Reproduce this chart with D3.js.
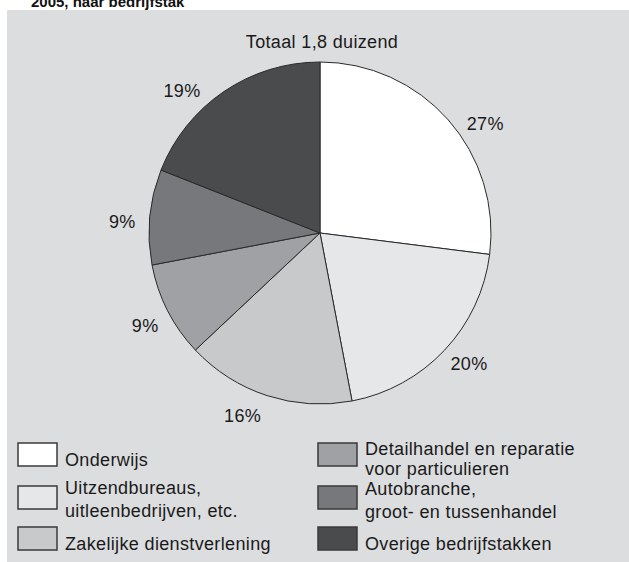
<!DOCTYPE html>
<html>
<head>
<meta charset="utf-8">
<script src="https://cdn.jsdelivr.net/npm/d3@7"></script>
<style>
  html, body { margin: 0; padding: 0; background: #ffffff; }
  svg { display: block; font-family: "Liberation Sans", Arial, Helvetica, sans-serif; }
</style>
</head>
<body>
<svg id="chart" width="629" height="562"></svg>
<script>
// ---- data ----
const categories = [
  "Onderwijs",
  "Uitzendbureaus, uitleenbedrijven, etc.",
  "Zakelijke dienstverlening",
  "Detailhandel en reparatie voor particulieren",
  "Autobranche, groot- en tussenhandel",
  "Overige bedrijfstakken"
];
const shares = [27, 20, 16, 9, 9, 19];
const percentLabels = ["27%", "20%", "16%", "9%", "9%", "19%"];
const legendLines = [
  ["Onderwijs"],
  ["Uitzendbureaus,", "uitleenbedrijven, etc."],
  ["Zakelijke dienstverlening"],
  ["Detailhandel en reparatie", "voor particulieren"],
  ["Autobranche,", "groot- en tussenhandel"],
  ["Overige bedrijfstakken"]
];
const chartTitle = "Totaal 1,8 duizend";
const headerText = "2005, naar bedrijfstak";

// ---- styles / layout ----
const colors = ["#ffffff", "#e6e7e8", "#c8c9cb", "#a0a1a4", "#77787b", "#4a4b4d"];
const labelAngleNudge = [8, -2, 5, -1, -2, -10]; // degrees, manual label placement
const W = 629, H = 562;
const cx = 320, cy = 233, R = 171, labelR = 198;
const fontSize = 18;
const spacing = 0.35;

const svg = d3.select("#chart");

// panel background
svg.append("rect").attr("x", 7).attr("y", 10).attr("width", W - 7).attr("height", H - 10)
  .attr("fill", "#dcdddf");

// clipped header (cut off at the top edge, as in the source)
svg.append("text").attr("x", 31).attr("y", 7)
  .attr("font-size", 15).attr("font-weight", "bold").attr("fill", "#111")
  .text(headerText);

// title
svg.append("text").attr("x", 322).attr("y", 48).attr("text-anchor", "middle")
  .attr("font-size", fontSize).attr("letter-spacing", spacing).attr("fill", "#1a1a1a").text(chartTitle);

const pie = d3.pie().sort(null).value(d => d)(shares);
const arc = d3.arc().innerRadius(0).outerRadius(R);

const g = svg.append("g").attr("transform", `translate(${cx},${cy})`);
g.selectAll("path.slice").data(pie).join("path")
  .attr("class", "slice")
  .attr("d", arc)
  .attr("fill", (d, i) => colors[i])
  .attr("stroke", "#2a2a2a")
  .attr("stroke-width", 1)
  .attr("stroke-linejoin", "round");

g.selectAll("text.pct").data(pie).join("text")
  .attr("class", "pct")
  .attr("x", (d, i) => {
    const a = (d.startAngle + d.endAngle) / 2 + labelAngleNudge[i] * Math.PI / 180;
    return labelR * Math.sin(a);
  })
  .attr("y", (d, i) => {
    const a = (d.startAngle + d.endAngle) / 2 + labelAngleNudge[i] * Math.PI / 180;
    return -labelR * Math.cos(a);
  })
  .attr("dy", "0.35em")
  .attr("text-anchor", "middle")
  .attr("font-size", fontSize)
  .attr("letter-spacing", spacing)
  .attr("fill", "#1a1a1a")
  .text((d, i) => percentLabels[i]);

// legend
const colX = [18, 318];
const rowY = [443, 486, 527];
const boxW = 39, boxH = 23;
const leg = svg.append("g");
categories.forEach((c, i) => {
  const col = Math.floor(i / 3), row = i % 3;
  const x = colX[col], y = rowY[row];
  leg.append("rect").attr("x", x).attr("y", y).attr("width", boxW).attr("height", boxH)
    .attr("fill", colors[i]).attr("stroke", "#3a3a3a").attr("stroke-width", 1.5);
  const lines = legendLines[i];
  const tx = x + boxW + 8;
  let baselines;
  if (lines.length === 1) baselines = [y + boxH];
  else if (i === 3) baselines = [y + 11.5, y + 31.5];
  else if (i === 4) baselines = [y + 9, y + 32];
  else baselines = [y + 8, y + 31];
  lines.forEach((t, k) => {
    leg.append("text").attr("x", tx).attr("y", baselines[k])
      .attr("font-size", fontSize).attr("letter-spacing", spacing).attr("fill", "#1a1a1a").text(t);
  });
});
</script>
</body>
</html>
